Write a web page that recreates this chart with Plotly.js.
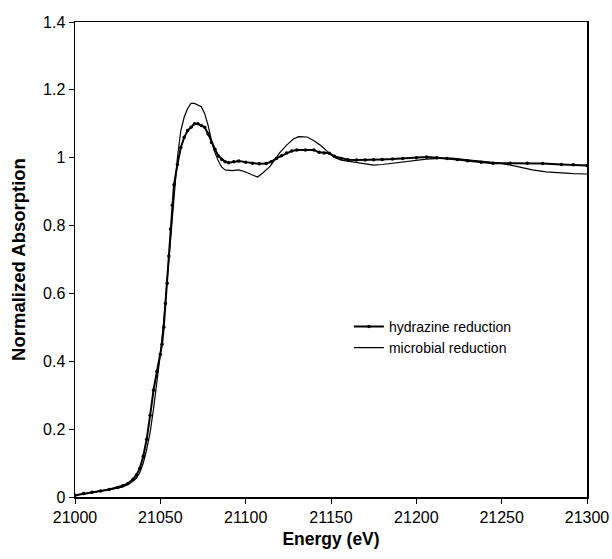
<!DOCTYPE html>
<html>
<head>
<meta charset="utf-8">
<script src="https://cdn.plot.ly/plotly-3.0.1.min.js"></script>
<style>html,body{margin:0;padding:0;background:#fff;}#chart{width:612px;height:559px;}</style>
</head>
<body>
<div id="chart"></div>
<script>
const hydrazineEnergy = [21000,21005,21010,21015,21020,21025,21028,21031,21034,21036,21038,21040,21042,21044,21046,21048,21050,21051,21052,21053,21054,21055,21056,21057,21058,21060,21062,21064,21066,21068,21070,21072,21074,21076,21078,21080,21082,21084,21086,21088,21090,21093,21096,21100,21104,21108,21112,21115,21118,21121,21124,21127,21130,21135,21140,21143,21146,21149,21152,21156,21160,21165,21170,21175,21180,21186,21192,21200,21206,21212,21218,21224,21230,21238,21245,21255,21265,21274,21285,21292,21300];
const hydrazineAbs = [0.005,0.010,0.014,0.018,0.022,0.028,0.033,0.040,0.052,0.065,0.085,0.12,0.17,0.24,0.315,0.37,0.42,0.45,0.50,0.57,0.63,0.71,0.79,0.86,0.92,0.98,1.03,1.06,1.08,1.09,1.10,1.10,1.095,1.09,1.07,1.045,1.025,1.005,0.995,0.988,0.985,0.988,0.99,0.987,0.984,0.982,0.983,0.988,0.998,1.006,1.014,1.02,1.023,1.023,1.023,1.016,1.014,1.013,1.004,0.998,0.994,0.993,0.993,0.994,0.995,0.996,0.998,1.0,1.002,1.0,0.998,0.995,0.991,0.987,0.984,0.984,0.984,0.983,0.98,0.979,0.977];

const microbialEnergy = [21000,21005,21010,21015,21020,21025,21028,21031,21034,21036,21038,21040,21042,21044,21046,21048,21050,21052,21054,21056,21058,21060,21062,21064,21066,21068,21070,21072,21074,21076,21078,21080,21082,21084,21086,21088,21092,21096,21100,21104,21107,21110,21114,21117,21120,21124,21128,21131,21136,21140,21144,21148,21152,21156,21162,21168,21175,21180,21186,21192,21200,21206,21214,21221,21230,21240,21249,21258,21268,21276,21284,21292,21300];
const microbialAbs = [0.005,0.009,0.013,0.017,0.021,0.026,0.030,0.036,0.046,0.056,0.072,0.10,0.14,0.19,0.26,0.34,0.42,0.52,0.64,0.78,0.90,1.00,1.08,1.12,1.145,1.16,1.16,1.155,1.15,1.13,1.095,1.05,1.015,0.99,0.972,0.964,0.962,0.964,0.958,0.949,0.943,0.955,0.973,0.993,1.015,1.037,1.055,1.062,1.061,1.05,1.036,1.018,1.001,0.993,0.988,0.982,0.978,0.98,0.984,0.988,0.992,0.996,0.998,0.999,0.994,0.988,0.984,0.975,0.964,0.958,0.955,0.953,0.952];

const xTicks = [21000,21050,21100,21150,21200,21250,21300];
const yTicks = [0,0.2,0.4,0.6,0.8,1,1.2,1.4];

const traces = [
  {x: hydrazineEnergy, y: hydrazineAbs, name: 'hydrazine reduction', mode: 'lines+markers',
   line: {color: '#000', width: 2}, marker: {color: '#000', size: 3.5, symbol: 'circle'}},
  {x: microbialEnergy, y: microbialAbs, name: 'microbial reduction', mode: 'lines',
   line: {color: '#000', width: 1.2}}
];

const layout = {
  width: 612, height: 559,
  margin: {l: 75, r: 25, t: 22, b: 62},
  paper_bgcolor: '#fff', plot_bgcolor: '#fff',
  font: {family: 'Liberation Sans, Arial, sans-serif', color: '#000', size: 16},
  showlegend: true,
  legend: {x: 0.535, y: 0.392, xanchor: 'left', yanchor: 'top', bgcolor: 'rgba(0,0,0,0)',
           font: {size: 14}, tracegroupgap: 0, itemwidth: 30},
  xaxis: {range: [21000, 21300], tickvals: xTicks, ticktext: xTicks.map(String),
          showline: true, linecolor: '#000', linewidth: 1.5, mirror: true,
          ticks: 'outside', ticklen: 5, tickcolor: '#000', showgrid: false, zeroline: false,
          tickfont: {size: 16},
          title: {text: '<b>Energy (eV)</b>', font: {size: 17.5}, standoff: 8}},
  yaxis: {range: [0, 1.4], tickvals: yTicks, ticktext: yTicks.map(String),
          showline: true, linecolor: '#000', linewidth: 1.5, mirror: true,
          ticks: 'outside', ticklen: 5, tickcolor: '#000', showgrid: false, zeroline: false,
          tickfont: {size: 16},
          title: {text: '<b>Normalized Absorption</b>', font: {size: 18.5}, standoff: 12}}
};

Plotly.newPlot('chart', traces, layout, {displayModeBar: false, staticPlot: true});
</script>
</body>
</html>
